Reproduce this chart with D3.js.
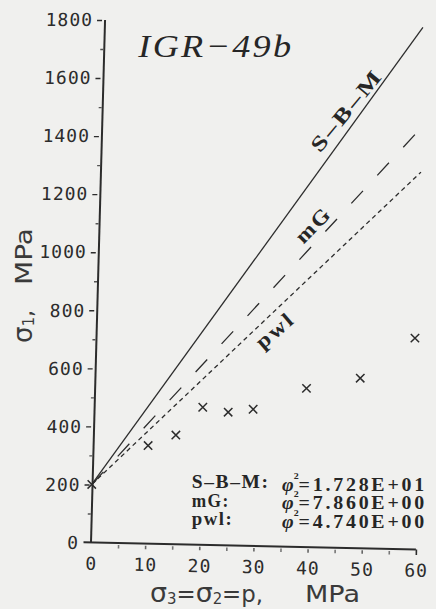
<!DOCTYPE html>
<html>
<head>
<meta charset="utf-8">
<script src="https://cdn.jsdelivr.net/npm/d3@7"></script>
<style>
  html, body { margin: 0; padding: 0; background: #f0f0ee; }
  svg { display: block; }
</style>
</head>
<body>
<svg id="chart" width="436" height="609"></svg>
<script>
// Triaxial test results, sample IGR-49b
const confining = [0, 10.3, 15.4, 20.3, 25, 29.6, 39.4, 49.3, 59.3];   // σ3 = σ2 = p, MPa
const strength  = [200, 334, 370, 466, 449, 459, 531, 566, 704];       // σ1, MPa

// Fitted failure criteria (end points of each fitted line)
const criteria   = ["S–B–M", "mG", "pwl"];
const criterionP = [[0, 60], [0, 60], [0, 60]];
const criterionS = [[200, 1775], [200, 1430], [200, 1276]];

// Goodness of fit
const fitLabels = ["S–B–M:", "mG:", "pwl:"];
const fitPhi2   = ["1.728E+01", "7.860E+00", "4.740E+00"];

// Axis ticks
const xTicks      = [0, 10, 20, 30, 40, 50, 60];
const xMinorTicks = [5, 15, 25, 35, 45, 55];
const yTicks      = [0, 200, 400, 600, 800, 1000, 1200, 1400, 1600, 1800];
const yMinorTicks = [100, 300, 500, 700, 900, 1100, 1300, 1500, 1700];

const title = "IGR−49b";

// ---------------------------------------------------------------
const ink = "#2c2c2c";
const svg = d3.select("#chart");

const x = d3.scaleLinear().domain([0, 60]).range([91, 416]);
const y = d3.scaleLinear().domain([0, 1800]).range([542.5, 20]);
const ox = x(0), oy = y(0);

const about = (t) => `translate(${ox},${oy}) ${t} translate(${-ox},${-oy})`;

// plotter frame is slightly sheared
const frame = svg.append("g").attr("transform", about("skewX(-0.77)"));

// ---- y axis ----
const yAxisG = frame.append("g").attr("transform", about("skewX(-0.77)"));
yAxisG.append("line")
  .attr("x1", ox).attr("x2", ox).attr("y1", y(0)).attr("y2", y(1800))
  .attr("stroke", ink).attr("stroke-width", 2);

const yMajor = yAxisG.append("g").attr("transform", `translate(${ox},0)`)
  .call(d3.axisLeft(y).tickValues(yTicks).tickSizeOuter(0).tickSizeInner(8).tickPadding(4)
        .tickFormat(d3.format("d")));
yMajor.select(".domain").remove();
yMajor.selectAll(".tick line").attr("x1", -3).attr("x2", -8)
  .attr("stroke", ink).attr("stroke-width", 1.4);
yMajor.selectAll(".tick text")
  .attr("x", -12)
  .attr("fill", ink)
  .style("font-family", "'DejaVu Sans Mono', monospace")
  .style("font-size", "18px")
  .style("letter-spacing", "1px");
yMajor.selectAll(".tick").filter(d => d === 0).select("line").remove();

const yMinor = yAxisG.append("g").attr("transform", `translate(${ox},0)`)
  .call(d3.axisLeft(y).tickValues(yMinorTicks).tickSizeOuter(0).tickSizeInner(4).tickFormat(""));
yMinor.select(".domain").remove();
yMinor.selectAll(".tick line").attr("x1", -1).attr("x2", -4)
  .attr("stroke", "#555").attr("stroke-width", 1.4);

// ---- x axis ----
const xAxisG = frame.append("g").attr("transform", about("skewY(1.23)"));
xAxisG.append("line")
  .attr("x1", ox - 7.5).attr("x2", x(60)).attr("y1", oy).attr("y2", oy)
  .attr("stroke", ink).attr("stroke-width", 2);

const xMajor = xAxisG.append("g").attr("transform", `translate(0,${oy})`)
  .call(d3.axisBottom(x).tickValues(xTicks).tickSizeOuter(0).tickSizeInner(6).tickPadding(8)
        .tickFormat(d3.format("d")));
xMajor.select(".domain").remove();
xMajor.selectAll(".tick line").attr("y1", 2).attr("y2", 5.5)
  .attr("stroke", "#666").attr("stroke-width", 1.6);
xMajor.selectAll(".tick").filter(d => d === 0).select("line").remove();
xMajor.selectAll(".tick").filter(d => d === 60).select("line").attr("y1", 0).attr("y2", 5.5)
  .attr("stroke", ink);
xMajor.selectAll(".tick text")
  .attr("y", 14.6)
  .attr("fill", ink)
  .style("font-family", "'DejaVu Sans Mono', monospace")
  .style("font-size", "18px")
  .style("letter-spacing", "1px");

const xMinor = xAxisG.append("g").attr("transform", `translate(0,${oy})`)
  .call(d3.axisBottom(x).tickValues(xMinorTicks).tickSizeOuter(0).tickSizeInner(6).tickFormat(""));
xMinor.select(".domain").remove();
xMinor.selectAll(".tick line").attr("y1", 2).attr("y2", 5.5)
  .attr("stroke", "#777").attr("stroke-width", 1.6);

// ---- fitted criteria ----
const dashes = [null, "17,21", "4.5,3.5"];
const line = d3.line().x(d => x(d[0])).y(d => y(d[1]));
criteria.forEach((name, i) => {
  const pts = criterionP[i].map((p, j) => [p, criterionS[i][j]]);
  frame.append("path")
    .datum(pts)
    .attr("d", line)
    .attr("fill", "none")
    .attr("stroke", ink)
    .attr("stroke-width", 1.3)
    .attr("stroke-dasharray", dashes[i]);
});

// labels along the fitted lines
const labelAt     = [48.1, 42.1, 31.6];   // p where the label sits
const labelOffset = [13.3, 13.6, -14.5];  // px, + = above the line
const labelAngle  = [-51, -46, -41];
const labelLength = [100, 42, 44];
criteria.forEach((name, i) => {
  const s = d3.scaleLinear().domain(criterionP[i]).range(criterionS[i]);
  const p0 = criterionP[i][0], p1 = criterionP[i][1];
  let dx = x(p1) - x(p0), dy = y(s(p1)) - y(s(p0));
  const len = Math.hypot(dx, dy); dx /= len; dy /= len;
  const nx = dy, ny = -dx;
  const cx = x(labelAt[i]) + nx * labelOffset[i];
  const cy = y(s(labelAt[i])) + ny * labelOffset[i];
  frame.append("text")
    .attr("transform", `translate(${cx},${cy}) rotate(${labelAngle[i]})`)
    .attr("text-anchor", "middle")
    .attr("dominant-baseline", "central")
    .attr("textLength", labelLength[i])
    .attr("lengthAdjust", "spacingAndGlyphs")
    .attr("fill", "#262626")
    .style("font-family", "'Liberation Serif', serif")
    .style("font-weight", "bold")
    .style("font-size", "21px")
    .style("letter-spacing", "2px")
    .text(name);
});

// ---- measured points ----
const r = 4.2;
frame.append("g").selectAll("path")
  .data(confining.map((p, i) => [p, strength[i]]))
  .join("path")
  .attr("d", d => {
    const cx = x(d[0]), cy = y(d[1]);
    return `M${cx - r},${cy - r}L${cx + r},${cy + r}M${cx - r},${cy + r}L${cx + r},${cy - r}`;
  })
  .attr("fill", "none")
  .attr("stroke", ink)
  .attr("stroke-width", 1.5);

// ---- title ----
svg.append("text")
  .attr("x", 138.3).attr("y", 56.7)
  .attr("textLength", 155).attr("lengthAdjust", "spacingAndGlyphs")
  .attr("fill", "#262626")
  .style("font-family", "'Liberation Serif', serif")
  .style("font-style", "italic")
  .style("font-size", "32px")
  .style("letter-spacing", "2px")
  .text(title);

// ---- fit statistics ----
const rowLeft  = [488, 506.5, 525];
const rowRight = [490.5, 509, 527.5];
const statFont = "'Liberation Serif', serif";
fitLabels.forEach((lab, i) => {
  svg.append("text")
    .attr("x", 191.7).attr("y", rowLeft[i])
    .attr("textLength", [78, 38, 41.7][i]).attr("lengthAdjust", "spacingAndGlyphs")
    .attr("fill", "#262626")
    .style("font-family", statFont).style("font-size", "18px").style("font-weight", "bold")
    .style("letter-spacing", "1.5px")
    .text(lab);
  const t = svg.append("text")
    .attr("x", 282).attr("y", rowRight[i])
    .attr("textLength", 145).attr("lengthAdjust", "spacingAndGlyphs")
    .attr("fill", "#262626")
    .style("font-family", statFont).style("font-size", "18px").style("font-weight", "bold")
    .style("letter-spacing", "2.5px");
  t.append("tspan").style("font-style", "italic").style("letter-spacing", "0px").text("φ");
  t.append("tspan").attr("dy", -12).style("font-size", "9px").style("letter-spacing", "0px").text("2");
  t.append("tspan").attr("dy", 12).text("=" + fitPhi2[i]);
});

// ---- axis titles ----
const sansFont = "'DejaVu Sans', sans-serif";
const xt = svg.append("text")
  .attr("x", 150).attr("y", 601.7)
  .attr("textLength", 113).attr("lengthAdjust", "spacingAndGlyphs")
  .attr("fill", "#3a3a3a")
  .style("font-family", sansFont).style("font-size", "23px");
xt.append("tspan").style("font-size", "27px").text("σ");
xt.append("tspan").attr("dy", 2).style("font-size", "15px").text("3");
xt.append("tspan").attr("dy", -2).text("=");
xt.append("tspan").style("font-size", "27px").text("σ");
xt.append("tspan").attr("dy", 2).style("font-size", "15px").text("2");
xt.append("tspan").attr("dy", -2).text("=p,");
svg.append("text")
  .attr("x", 305).attr("y", 601.7)
  .attr("textLength", 55).attr("lengthAdjust", "spacingAndGlyphs")
  .attr("fill", "#3a3a3a")
  .style("font-family", sansFont).style("font-size", "23px")
  .text("MPa");

const yt = svg.append("text")
  .attr("transform", "translate(31.5,343) rotate(-90)")
  .attr("textLength", 33).attr("lengthAdjust", "spacingAndGlyphs")
  .attr("fill", "#3a3a3a")
  .style("font-family", sansFont).style("font-size", "23px");
yt.append("tspan").style("font-size", "27px").text("σ");
yt.append("tspan").attr("dy", 2).style("font-size", "15px").text("1");
yt.append("tspan").attr("dy", -2).text(",");
svg.append("text")
  .attr("transform", "translate(31.5,285) rotate(-90)")
  .attr("textLength", 57).attr("lengthAdjust", "spacingAndGlyphs")
  .attr("fill", "#3a3a3a")
  .style("font-family", sansFont).style("font-size", "23px")
  .text("MPa");
</script>
</body>
</html>
